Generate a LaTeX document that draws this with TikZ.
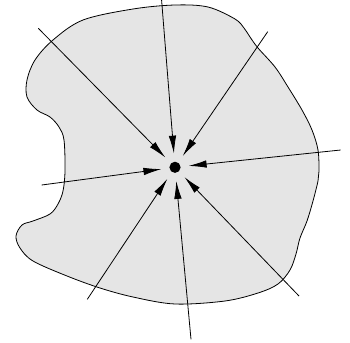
\documentclass[tikz,border=0pt]{standalone}
\usepackage{xcolor}
\usetikzlibrary{arrows.meta}
\definecolor{mygray}{RGB}{229,229,229}

\tikzset{
  flux/.style={-{Latex[length=18pt,width=7.5pt]}, line width=0.8},
  sink/.style={circle, minimum size=27pt, inner sep=0pt}
}

\begin{document}
\begin{tikzpicture}[x=1pt,y=-1pt]
\useasboundingbox (0,0) rectangle (350,342);

% region
\draw[line width=0.8, fill=mygray] plot[smooth cycle, tension=0.55] coordinates {
 (175,5) (208,7) (235,19) (244,28) (250,37) (258,48) (275,67) (288,87) (302,110) (312,130)
 (318,150) (319,171) (318,181) (313,201) (307,221) (300,238) (296,254) (290,270) (278,284)
 (258,293) (225,301) (175,304) (133,297) (100,288) (67,276) (33,261) (20,248) (16,236)
 (22,225) (33,221) (50,214) (58,204) (63,191) (65,171) (64,140) (59,127) (50,117) (37,110)
 (27,97) (27,80) (35,60) (53,40) (83,20) (133,9)};

% sink
\node[sink] (C) at (175,167.3) {};
\fill (C) circle(5.6pt);

\coordinate (s1) at (38.3,28.3);
\coordinate (s2) at (161.5,-1);
\coordinate (s3) at (267.7,31.7);
\coordinate (s4) at (340.7,150);
\coordinate (s5) at (41.7,185);
\coordinate (s6) at (87.3,299.3);
\coordinate (s7) at (191,339.3);
\coordinate (s8) at (299,296);

\foreach \i in {1,...,8}
  \draw[flux] (s\i) -- (C);
\end{tikzpicture}
\end{document}
